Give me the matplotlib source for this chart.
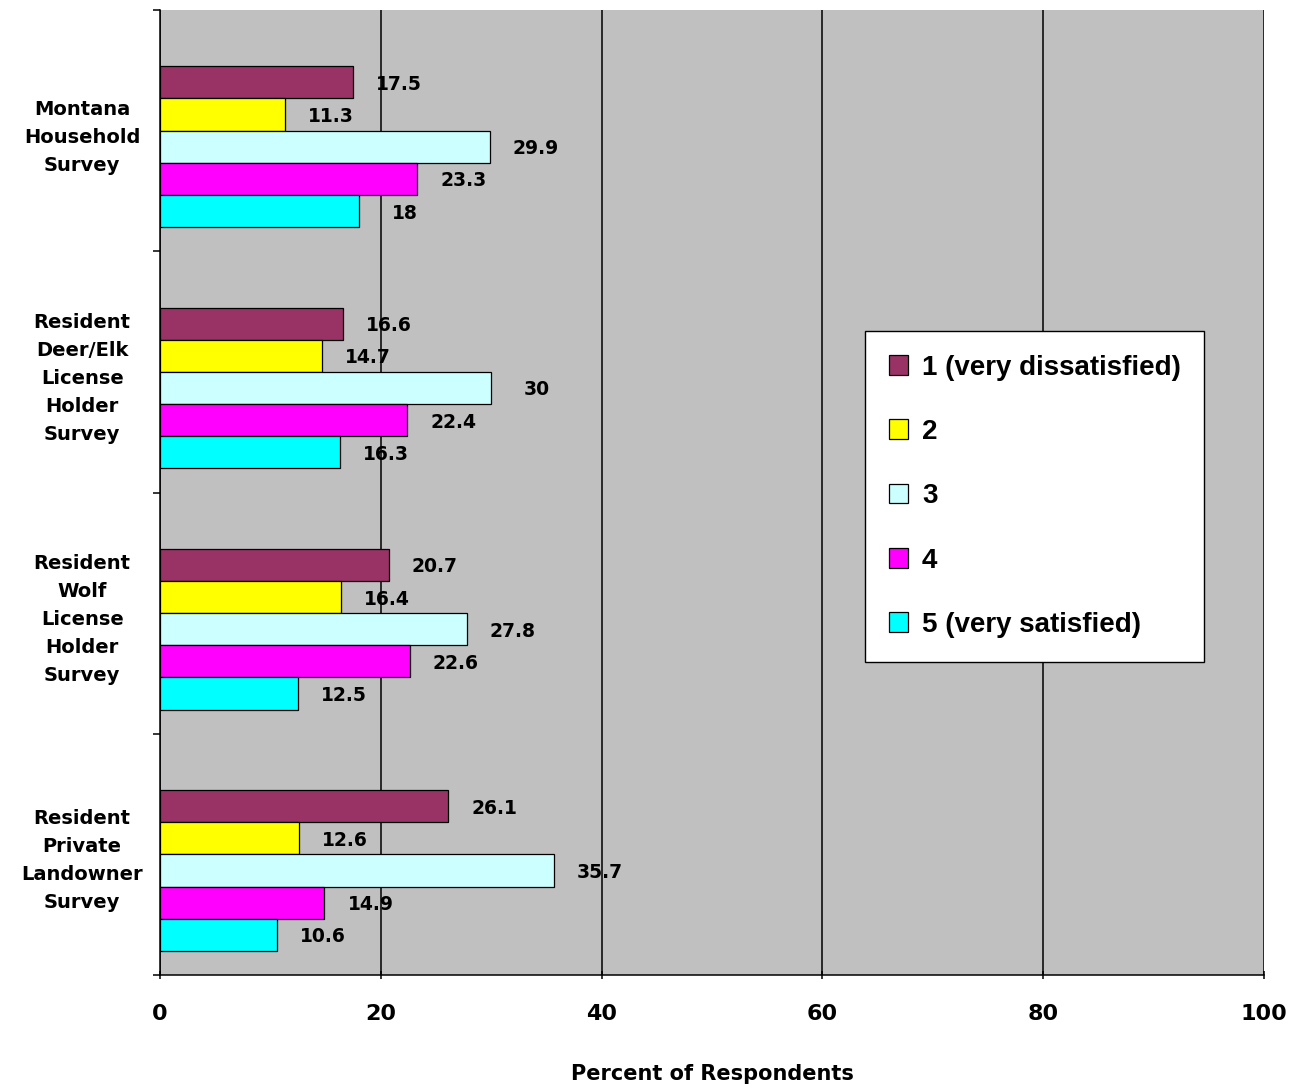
import numpy as np
import matplotlib
matplotlib.use('Agg')
import matplotlib.pyplot as plt

# data
surveys = ['Montana\nHousehold\nSurvey',
           'Resident\nDeer/Elk\nLicense\nHolder\nSurvey',
           'Resident\nWolf\nLicense\nHolder\nSurvey',
           'Resident\nPrivate\nLandowner\nSurvey']
series_names = ['1 (very dissatisfied)', '2', '3', '4', '5 (very satisfied)']
sat_1 = [17.5, 16.6, 20.7, 26.1]
sat_2 = [11.3, 14.7, 16.4, 12.6]
sat_3 = [29.9, 30.0, 27.8, 35.7]
sat_4 = [23.3, 22.4, 22.6, 14.9]
sat_5 = [18.0, 16.3, 12.5, 10.6]
value_labels = [['17.5', '16.6', '20.7', '26.1'],
                ['11.3', '14.7', '16.4', '12.6'],
                ['29.9', '30', '27.8', '35.7'],
                ['23.3', '22.4', '22.6', '14.9'],
                ['18', '16.3', '12.5', '10.6']]
colors = ['#993366', '#FFFF00', '#CCFFFF', '#FF00FF', '#00FFFF']

all_series = [sat_1, sat_2, sat_3, sat_4, sat_5]
bold_font = 'DejaVu Sans'

fig = plt.figure(figsize=(12.99, 10.88), dpi=100)
ax = fig.add_axes([160/1299, 1-975/1088, (1264-160)/1299, (975-10)/1088])
ax.set_facecolor('#C0C0C0')

n = len(surveys)
h = 1/7.5
shift = h/2  # bars sit a bit low in the category, as in the original
centers = np.arange(n) + 0.5

for j, vals in enumerate(all_series):
    ypos = centers + (j - 2) * h + shift
    ax.barh(ypos, vals, height=h, color=colors[j], edgecolor='black',
            linewidth=0.9, label=series_names[j], zorder=3)
    for k, v in enumerate(vals):
        ax.annotate(value_labels[j][k], (v, ypos[k]), xytext=(46, -2),
                    textcoords='offset pixels', ha='center', va='center',
                    fontsize=13.5, fontweight='bold', family=bold_font, zorder=4)

ax.set_xlim(0, 100)
ax.set_ylim(n, 0)
ax.set_xticks([0, 20, 40, 60, 80, 100])
ax.set_xticklabels(['0', '20', '40', '60', '80', '100'], fontsize=16,
                   fontweight='bold', family=bold_font)
ax.xaxis.grid(True, color='black', linewidth=1.1, zorder=1)
ax.set_axisbelow(True)

ax.set_yticks(np.arange(n + 1))
ax.set_yticklabels([])
ax.set_yticks(centers, minor=True)
ax.set_yticklabels(surveys, minor=True, fontsize=14, fontweight='bold',
                   family=bold_font, linespacing=1.6, ha='center')
ax.tick_params(axis='y', which='minor', length=0, pad=56)
ax.tick_params(axis='y', which='major', length=5, width=1.1, direction='out')
ax.tick_params(axis='x', length=6, width=1.1, direction='inout', pad=18)

for s in ['top', 'right']:
    ax.spines[s].set_visible(False)
ax.spines['left'].set_linewidth(1.1)
ax.spines['bottom'].set_linewidth(1.1)

ax.set_xlabel('Percent of Respondents', fontsize=15, fontweight='bold',
              family=bold_font)
ax.xaxis.set_label_coords(0.5, (975 - 1074) / 965)
ax.xaxis.label.set_va('center')

leg = ax.legend(loc='upper left', bbox_to_anchor=(865/1299, 1-331/1088),
                bbox_transform=fig.transFigure, borderaxespad=0,
                prop={'family': 'Liberation Sans', 'weight': 'bold', 'size': 20},
                frameon=True, fancybox=False, handlelength=0.7,
                handleheight=0.7, handletextpad=0.5, labelspacing=1.38,
                borderpad=0.85)
leg.get_frame().set_edgecolor('black')
leg.get_frame().set_linewidth(1.0)
leg.get_frame().set_facecolor('white')
leg.get_frame().set_alpha(1)

fig.savefig('out.png', dpi=100)
